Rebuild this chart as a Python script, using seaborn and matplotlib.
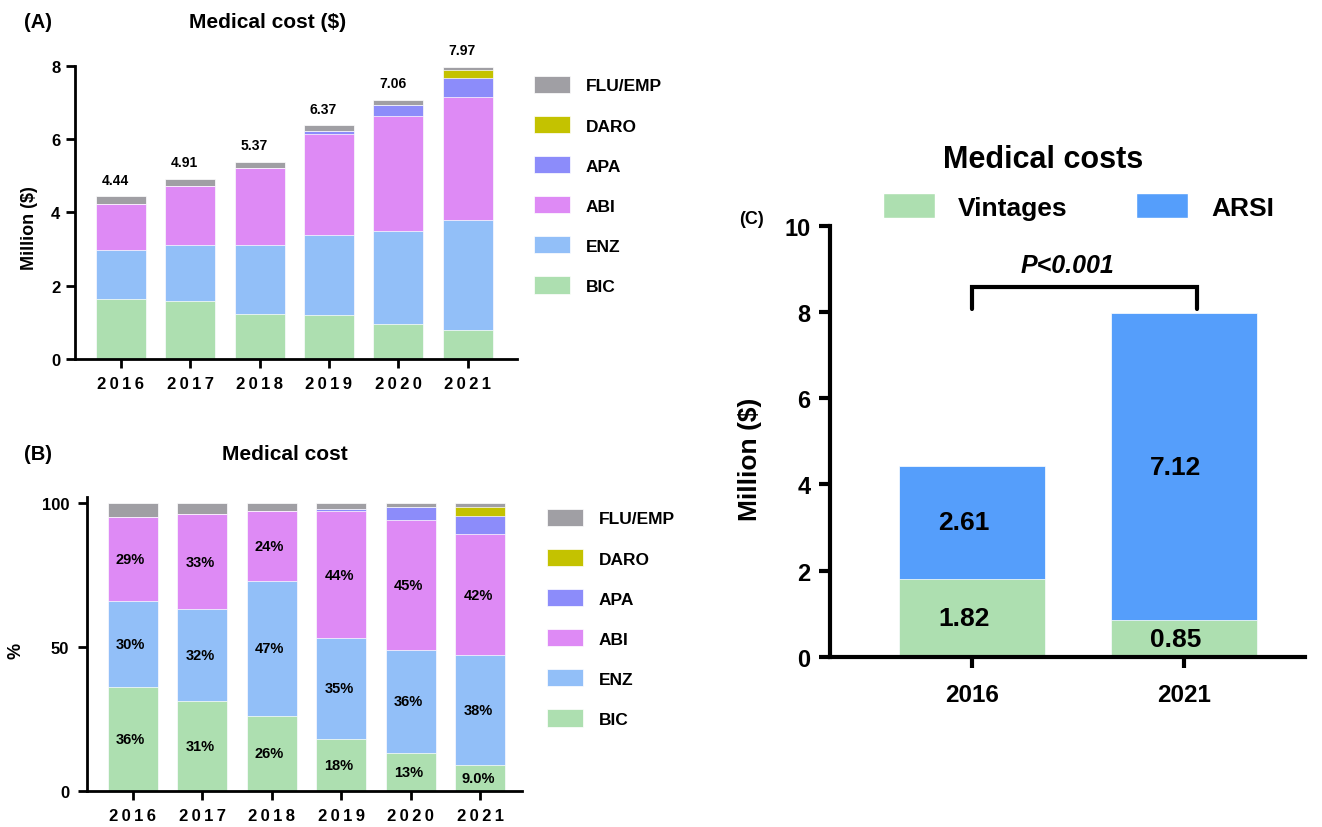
import numpy as np
import pandas as pd
import matplotlib
matplotlib.use("Agg")
import matplotlib.pyplot as plt
import seaborn as sns
from matplotlib.patches import Patch

# ---------------- data ----------------
years = ["2016", "2017", "2018", "2019", "2020", "2021"]
drugs = ["BIC", "ENZ", "ABI", "APA", "DARO", "FLU/EMP"]  # stacked bottom -> top

# (A) annual medical cost, million $
cost_bic = [1.63, 1.57, 1.24, 1.21, 0.96, 0.78]
cost_enz = [1.33, 1.54, 1.87, 2.17, 2.53, 3.02]
cost_abi = [1.27, 1.60, 2.11, 2.75, 3.13, 3.34]
cost_apa = [0.00, 0.00, 0.00, 0.09, 0.31, 0.52]
cost_daro = [0.00, 0.00, 0.00, 0.00, 0.00, 0.23]
cost_flu = [0.21, 0.20, 0.15, 0.15, 0.13, 0.08]

# (B) share of medical cost, %
share_bic = [36, 31, 26, 18, 13, 9.0]
share_enz = [30, 32, 47, 35, 36, 38]
share_abi = [29, 33, 24, 44, 45, 42]
share_apa = [0, 0, 0, 1.0, 4.5, 6.5]
share_daro = [0, 0, 0, 0, 0, 3.0]
share_flu = [5, 4, 3, 2, 1.5, 1.5]

# (C) vintage agents vs ARSI, million $
groups = ["2016", "2021"]
vintages = [1.82, 0.85]
arsi = [2.61, 7.12]
p_label = "P<0.001"

# ---------------- style ----------------
sns.set_style("ticks")
plt.rcParams["font.family"] = ["Liberation Sans", "DejaVu Sans"]
plt.rcParams["font.weight"] = "bold"
plt.rcParams["axes.labelweight"] = "bold"
for key in ("text.color", "axes.labelcolor", "xtick.color", "ytick.color", "axes.edgecolor"):
    plt.rcParams[key] = "black"

drug_colors = ["#ADDFB0", "#92BFF8", "#DE8AF5", "#8C8CFA", "#C4C200", "#A09FA4"]
vintage_color = "#ADDFB0"
arsi_color = "#559EFB"

W, H = 1322, 828
fig = plt.figure(figsize=(W / 100, H / 100), dpi=100)


def fig_rect(left, top, right, bottom):
    return [left / W, 1 - bottom / H, (right - left) / W, (bottom - top) / H]


def stacked_bars(ax, cats, layers, colors, width):
    cum = np.cumsum(np.array(layers, dtype=float), axis=0)
    # tallest cumulative bar first, lower layers painted over it
    for i in range(len(layers) - 1, -1, -1):
        df = pd.DataFrame({"cat": cats, "value": cum[i]})
        sns.barplot(data=df, x="cat", y="value", color=colors[i], width=width,
                    saturation=1, errorbar=None, edgecolor="white",
                    linewidth=0.5, ax=ax)
    ax.set_xlabel("")
    ax.set_ylabel("")
    return cum


def style_axes(ax, lw, ticklen, xfs, yfs, xpad, ypad):
    sns.despine(ax=ax)
    for s in ("left", "bottom"):
        ax.spines[s].set_linewidth(lw)
        ax.spines[s].set_color("black")
    ax.tick_params(axis="both", width=lw, length=ticklen, color="black", labelcolor="black")
    ax.tick_params(axis="x", labelsize=xfs, pad=xpad)
    ax.tick_params(axis="y", labelsize=yfs, pad=ypad)
    for lab in ax.get_xticklabels() + ax.get_yticklabels():
        lab.set_fontweight("bold")


# letter-spaced year labels for the two small panels
spaced_years = ["\u2009".join(y) for y in years]

# ---------------- (A) ----------------
axA = fig.add_axes(fig_rect(75, 66.7, 517, 360))
layersA = [cost_bic, cost_enz, cost_abi, cost_apa, cost_daro, cost_flu]
cumA = stacked_bars(axA, years, layersA, drug_colors, 0.72)
axA.set_xlim(-0.66, 5.71)
axA.set_ylim(0, 8)
axA.set_yticks([0, 2, 4, 6, 8])
axA.set_xticks(range(len(years)))
axA.set_xticklabels(spaced_years)
style_axes(axA, 2.0, 6.5, 12, 12, 6, 4)
axA.set_ylabel("Million ($)", fontsize=13, fontweight="bold")
axA.yaxis.set_label_coords(-0.084, 0.45)
for i, tot in enumerate(cumA[-1]):
    axA.annotate(f"{tot:.2f}", (i, tot), xytext=(-4, 12), textcoords="offset points",
                 ha="center", va="center", fontsize=10, fontweight="bold")
fig.text(38 / W, 1 - 22 / H, "(A)", ha="center", va="center", fontsize=14.5, fontweight="bold")
fig.text(268 / W, 1 - 22 / H, "Medical cost ($)", ha="center", va="center", fontsize=15, fontweight="bold")

# ---------------- (B) ----------------
axB = fig.add_axes(fig_rect(86.7, 498, 522, 791.7))
layersB = [share_bic, share_enz, share_abi, share_apa, share_daro, share_flu]
cumB = stacked_bars(axB, years, layersB, drug_colors, 0.72)
axB.set_xlim(-0.66, 5.6)
axB.set_ylim(0, 102)
axB.set_yticks([0, 50, 100])
axB.set_xticks(range(len(years)))
axB.set_xticklabels(spaced_years)
style_axes(axB, 2.0, 6.5, 12, 12, 6, 6)
axB.set_ylabel("%", fontsize=13, fontweight="bold")
axB.yaxis.set_label_coords(-0.142, 0.48)
for k in range(3):  # BIC, ENZ, ABI are labelled
    for i, v in enumerate(layersB[k]):
        base = cumB[k][i] - v
        txt = f"{v:.0f}%" if v >= 10 else f"{v:.1f}%"
        axB.text(i - 0.03, base + v / 2, txt, ha="center", va="center",
                 fontsize=10.5, fontweight="bold")
fig.text(38 / W, 1 - 455 / H, "(B)", ha="center", va="center", fontsize=14.5, fontweight="bold")
fig.text(285 / W, 1 - 455 / H, "Medical cost", ha="center", va="center", fontsize=15, fontweight="bold")

# legends for A and B
handles = [Patch(facecolor=c, edgecolor="white", linewidth=0.5, label=d)
           for d, c in zip(drugs, drug_colors)][::-1]
for top, left in ((77, 534), (510, 547)):
    fig.legend(handles=handles, loc="upper left",
               bbox_to_anchor=(left / W, 1 - top / H), frameon=False,
               handlelength=2.07, handleheight=1.15,
               labelspacing=1.3, handletextpad=0.92, borderpad=0,
               borderaxespad=0, prop={"weight": "bold", "size": 12.5})

# ---------------- (C) ----------------
axC = fig.add_axes(fig_rect(830, 226.7, 1305, 658))
cumC = stacked_bars(axC, groups, [vintages, arsi], [vintage_color, arsi_color], 0.69)
axC.set_xlim(-0.67, 1.57)
axC.set_ylim(0, 10)
axC.set_yticks([0, 2, 4, 6, 8, 10])
style_axes(axC, 3.0, 8, 17.5, 17, 11, 6)
axC.set_ylabel("Million ($)", fontsize=19, fontweight="bold")
axC.yaxis.set_label_coords(-0.143, 0.46)
for k, layer in enumerate([vintages, arsi]):
    for i, v in enumerate(layer):
        base = cumC[k][i] - v
        axC.text(i - 0.04, base + v / 2, f"{v:.2f}", ha="center", va="center",
                 fontsize=19, fontweight="bold")

# significance bracket
axC.plot([0, 0, 1.06, 1.06], [8.07, 8.57, 8.57, 8.07], color="black", lw=3,
         clip_on=False, solid_joinstyle="miter")
axC.text(0.45, 9.09, p_label, ha="center", va="center", fontsize=18,
         fontweight="bold", fontstyle="italic")

fig.text(1043 / W, 1 - 160 / H, "Medical costs", ha="center", va="center", fontsize=22, fontweight="bold")
fig.text(751 / W, 1 - 220 / H, "(C)", ha="center", va="center", fontsize=13, fontweight="bold")
handlesC = [Patch(facecolor=vintage_color, label="Vintages"),
            Patch(facecolor=arsi_color, label="ARSI")]
fig.legend(handles=handlesC, loc="upper left", ncol=2,
           bbox_to_anchor=(883 / W, 1 - 194 / H), frameon=False,
           handlelength=1.97, handleheight=1.1, handletextpad=0.87,
           columnspacing=2.6, borderpad=0, borderaxespad=0,
           prop={"weight": "bold", "size": 19})

fig.savefig("out.png", dpi=100)
